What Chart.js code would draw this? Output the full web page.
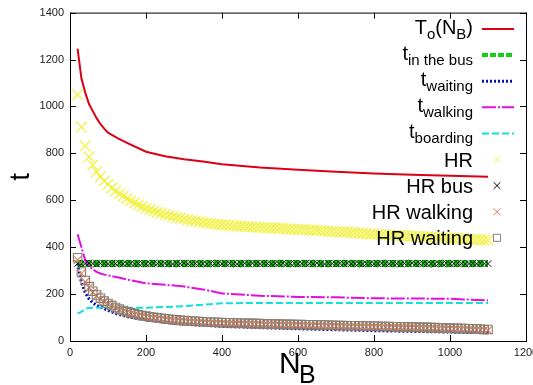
<!DOCTYPE html>
<html>
<head>
<meta charset="utf-8">
<script src="https://cdn.jsdelivr.net/npm/chart.js@4.4.1/dist/chart.umd.min.js"></script>
<style>
  html, body { margin: 0; padding: 0; background: #fff; overflow: hidden; }
  #wrap { position: relative; width: 560px; height: 385px; }
</style>
</head>
<body>
<div id="wrap"><canvas id="chart"></canvas></div>
<script>
// x positions (number of buses)
const nLine = [20, 30, 40, 50, 60, 70, 80, 90, 100, 125, 150, 200, 250, 300, 350, 400, 500, 600, 700, 800, 900, 1000, 1100];
const nHR = [
  20, 30, 40, 50, 60, 70, 80, 90, 100, 110,
  120, 130, 140, 150, 160, 170, 180, 190, 200, 210,
  220, 230, 240, 250, 260, 270, 280, 290, 300, 310,
  320, 330, 340, 350, 360, 370, 380, 390, 400, 410,
  420, 430, 440, 450, 460, 470, 480, 490, 500, 510,
  520, 530, 540, 550, 560, 570, 580, 590, 600, 610,
  620, 630, 640, 650, 660, 670, 680, 690, 700, 710,
  720, 730, 740, 750, 760, 770, 780, 790, 800, 810,
  820, 830, 840, 850, 860, 870, 880, 890, 900, 910,
  920, 930, 940, 950, 960, 970, 980, 990, 1000, 1010,
  1020, 1030, 1040, 1050, 1060, 1070, 1080, 1090, 1100
];

// line series (on nLine)
const toNB      = [1246, 1120, 1060, 1010, 980, 950, 925, 905, 888, 865, 845, 807, 788, 775, 765, 754, 740, 730, 722, 714, 709, 705, 700];
const tBus      = [330, 330, 330, 330, 330, 330, 330, 330, 330, 330, 330, 330, 330, 330, 330, 330, 330, 330, 330, 330, 330, 330, 330];
const tWaiting  = [330, 250, 205, 180, 163, 152, 145, 138, 130, 115, 104, 90, 80, 72, 67, 62, 57, 52, 48, 44, 41, 38, 35];
const tWalking  = [455, 400, 345, 320, 305, 295, 288, 283, 280, 272, 262, 246, 240, 232, 220, 203, 193, 188, 186, 182, 181, 180, 173];
const tBoarding = [118, 124, 138, 141, 142, 142, 142, 142, 142, 142, 142, 142, 145, 148, 155, 161, 162, 162, 162, 162, 162, 162, 162];

// marker series (on nHR)
const hrAll = [
  1050, 912, 832, 785, 750, 722, 700, 682, 667, 652,
  640, 628, 618, 607, 598, 589, 581, 573, 566, 560,
  554, 549, 544, 539, 535, 531, 527, 523, 520, 517,
  514, 511, 508, 506, 503, 501, 499, 497, 495, 494,
  493, 491, 490, 489, 488, 487, 486, 485, 485, 484,
  483, 482, 481, 480, 479, 478, 477, 477, 476, 475,
  474, 473, 472, 471, 470, 469, 468, 467, 466, 465,
  464, 463, 462, 461, 460, 459, 458, 456, 455, 454,
  453, 452, 451, 451, 450, 449, 448, 448, 447, 446,
  445, 444, 444, 443, 442, 441, 440, 440, 439, 438,
  437, 436, 435, 434, 433, 432, 431, 431, 430
];
const hrBus = [
  331, 329, 330, 332, 330, 328, 331, 330, 329, 331,
  330, 332, 329, 330, 331, 328, 330, 331, 329, 330,
  332, 330, 329, 331, 330, 328, 331, 330, 332, 329,
  330, 331, 329, 330, 328, 331, 330, 332, 329, 330,
  331, 330, 328, 330, 331, 329, 332, 330, 329, 331,
  330, 329, 331, 330, 332, 328, 330, 331, 329, 330,
  331, 330, 329, 332, 330, 328, 331, 330, 329, 331,
  330, 332, 329, 330, 331, 328, 330, 331, 329, 330,
  332, 330, 329, 331, 330, 328, 331, 330, 332, 329,
  330, 331, 329, 330, 328, 331, 330, 332, 329, 330,
  331, 330, 328, 330, 331, 329, 332, 330, 330
];
const hrWalking = [
  345, 288, 252, 228, 208, 192, 178, 166, 157, 148,
  140, 133, 127, 122, 117, 113, 109, 106, 103, 100,
  98, 96, 94, 92, 90, 88, 87, 85, 84, 83,
  82, 81, 80, 79, 78, 77, 77, 76, 76, 75,
  75, 74, 74, 73, 73, 72, 72, 71, 71, 70,
  70, 70, 69, 69, 68, 68, 68, 67, 67, 67,
  66, 66, 66, 65, 65, 65, 64, 64, 63, 63,
  63, 62, 62, 62, 61, 61, 61, 60, 60, 60,
  59, 59, 59, 58, 58, 58, 57, 57, 56, 56,
  55, 55, 55, 54, 54, 53, 53, 52, 52, 51,
  51, 50, 50, 49, 48, 48, 47, 46, 46
];
const hrWaiting = [
  355, 294, 258, 232, 212, 196, 182, 170, 160, 151,
  143, 136, 130, 125, 120, 116, 112, 109, 106, 103,
  101, 99, 97, 95, 93, 91, 90, 88, 87, 86,
  85, 84, 83, 82, 81, 80, 80, 79, 79, 78,
  78, 77, 77, 76, 76, 75, 75, 74, 74, 73,
  73, 73, 72, 72, 71, 71, 71, 70, 70, 70,
  69, 69, 69, 68, 68, 68, 67, 67, 66, 66,
  66, 65, 65, 65, 64, 64, 64, 63, 63, 63,
  62, 62, 62, 61, 61, 61, 60, 60, 59, 59,
  58, 58, 58, 57, 57, 56, 56, 55, 55, 54,
  54, 53, 53, 52, 51, 51, 50, 49, 49
];

const xTicks = [0, 200, 400, 600, 800, 1000, 1200];
const yTicks = [0, 200, 400, 600, 800, 1000, 1200, 1400];

// legend texts: [text, isSubscript]
const legendParts = [
  [['T', 0], ['o', 1], ['(N', 0], ['B', 1], [')', 0]],
  [['t', 0], ['in the bus', 1]],
  [['t', 0], ['waiting', 1]],
  [['t', 0], ['walking', 1]],
  [['t', 0], ['boarding', 1]],
  [['HR', 0]],
  [['HR bus', 0]],
  [['HR walking', 0]],
  [['HR waiting', 0]]
];

const FONT = '"Liberation Sans", Arial, Helvetica, sans-serif';
Chart.defaults.font.family = FONT;

function pts(xs, ys) {
  return xs.map((x, i) => ({ x: x, y: ys[i] }));
}

function lineSet(label, xs, ys, color, width, dash) {
  return {
    label: label, data: pts(xs, ys), showLine: true,
    borderColor: color, borderWidth: width, borderDash: dash,
    pointRadius: 0, fill: false, tension: 0
  };
}

function markSet(label, xs, ys, style, color, radius, bw) {
  return {
    label: label, data: pts(xs, ys), showLine: false,
    pointStyle: style, pointRadius: radius, pointBorderColor: color,
    pointBackgroundColor: 'rgba(0,0,0,0)', pointBorderWidth: bw,
    borderColor: color, backgroundColor: 'rgba(0,0,0,0)'
  };
}

const datasets = [
  lineSet('T_o(N_B)', nLine, toNB, '#dc0014', 2, []),
  lineSet('t_in the bus', nLine, tBus, '#10d010', 7, [6, 2]),
  lineSet('t_waiting', nLine, tWaiting, '#0010c0', 3, [2, 2]),
  lineSet('t_walking', nLine, tWalking, '#e010e0', 2, [14, 2, 2, 2]),
  lineSet('t_boarding', nLine, tBoarding, '#10e0e0', 2, [7, 3]),
  markSet('HR', nHR, hrAll, 'crossRot', 'rgba(240,240,50,0.85)', 7.5, 1.4),
  markSet('HR bus', nHR, hrBus, 'crossRot', '#000000', 4.8, 0.9),
  markSet('HR walking', nHR, hrWalking, 'crossRot', '#e07a58', 5.5, 1.1),
  markSet('HR waiting', nHR, hrWaiting, 'rect', '#8a7e70', 6, 1.1)
];
datasets.forEach((d, i) => { d.order = datasets.length - i; });

function drawMarker(ctx, style, x, y, r) {
  const s = r * Math.SQRT1_2;
  ctx.beginPath();
  if (style === 'rect') {
    ctx.rect(x - s, y - s, 2 * s, 2 * s);
  } else {
    ctx.moveTo(x - s, y - s); ctx.lineTo(x + s, y + s);
    ctx.moveTo(x + s, y - s); ctx.lineTo(x - s, y + s);
  }
  ctx.stroke();
}

const framePlugin = {
  id: 'frame',
  afterDraw(chart) {
    const ctx = chart.ctx;
    const a = chart.chartArea;
    const xs = chart.scales.x, ys = chart.scales.y;
    ctx.save();
    // frame + inward ticks
    ctx.strokeStyle = '#000';
    ctx.lineWidth = 1;
    ctx.setLineDash([]);
    ctx.strokeRect(a.left + 0.5, a.top + 0.5, a.right - a.left, a.bottom - a.top);
    ctx.beginPath();
    xTicks.forEach(v => {
      const px = Math.round(xs.getPixelForValue(v)) + 0.5;
      ctx.moveTo(px, a.bottom); ctx.lineTo(px, a.bottom - 6);
      ctx.moveTo(px, a.top); ctx.lineTo(px, a.top + 6);
    });
    yTicks.forEach(v => {
      const py = Math.round(ys.getPixelForValue(v)) + 0.5;
      ctx.moveTo(a.left, py); ctx.lineTo(a.left + 6, py);
      ctx.moveTo(a.right, py); ctx.lineTo(a.right - 6, py);
    });
    ctx.stroke();

    // x axis title N_B
    ctx.fillStyle = '#000';
    ctx.textBaseline = 'alphabetic';
    ctx.textAlign = 'left';
    ctx.font = '30px ' + FONT;
    ctx.fillText('N', 279, 373);
    ctx.font = '25px ' + FONT;
    ctx.fillText('B', 299, 383);

    // legend
    const textRight = 473, sx0 = 482, sx1 = 514, mx = 497;
    legendParts.forEach((parts, i) => {
      const cy = 29 + 26.1 * i;
      const hasSub = parts.some(p => p[1]);
      const base = cy + (hasSub ? 5 : 7);
      let w = 0;
      parts.forEach(p => {
        ctx.font = (p[1] ? '15px ' : '20px ') + FONT;
        w += ctx.measureText(p[0]).width;
      });
      let x = textRight - w;
      parts.forEach(p => {
        ctx.font = (p[1] ? '15px ' : '20px ') + FONT;
        ctx.fillText(p[0], x, p[1] ? base + 5 : base);
        x += ctx.measureText(p[0]).width;
      });
      const d = chart.data.datasets[i];
      if (d.showLine) {
        ctx.strokeStyle = d.borderColor;
        ctx.lineWidth = Math.min(d.borderWidth, 4);
        ctx.setLineDash(d.borderDash);
        ctx.beginPath();
        ctx.moveTo(sx0, cy); ctx.lineTo(sx1, cy);
        ctx.stroke();
        ctx.setLineDash([]);
      } else {
        ctx.strokeStyle = d.pointBorderColor;
        ctx.lineWidth = 1;
        drawMarker(ctx, d.pointStyle, mx, cy, Math.min(d.pointRadius, 5));
      }
    });
    ctx.restore();
  }
};

new Chart(document.getElementById('chart'), {
  type: 'scatter',
  data: { datasets: datasets },
  options: {
    responsive: true,
    maintainAspectRatio: false,
    animation: false,
    events: [],
    layout: { padding: { top: 12, right: 34, bottom: 0, left: 0 } },
    plugins: { legend: { display: false }, tooltip: { enabled: false } },
    scales: {
      x: {
        type: 'linear', min: 0, max: 1200,
        afterBuildTicks: s => { s.ticks = xTicks.map(v => ({ value: v })); },
        afterFit: s => { s.height = 44; },
        grid: { display: false, drawTicks: false },
        border: { display: false },
        ticks: { color: '#222', font: { size: 11 }, padding: 5, maxRotation: 0, callback: v => String(v) }
      },
      y: {
        type: 'linear', min: 0, max: 1400,
        afterBuildTicks: s => { s.ticks = yTicks.map(v => ({ value: v })); },
        afterFit: s => { s.width = 70; },
        grid: { display: false, drawTicks: false },
        border: { display: false },
        ticks: { color: '#222', font: { size: 11 }, padding: 6, callback: v => String(v) },
        title: { display: true, text: 't', color: '#000', font: { size: 28 }, padding: { top: 4, bottom: 0 } }
      }
    }
  },
  plugins: [framePlugin]
});
</script>
</body>
</html>
